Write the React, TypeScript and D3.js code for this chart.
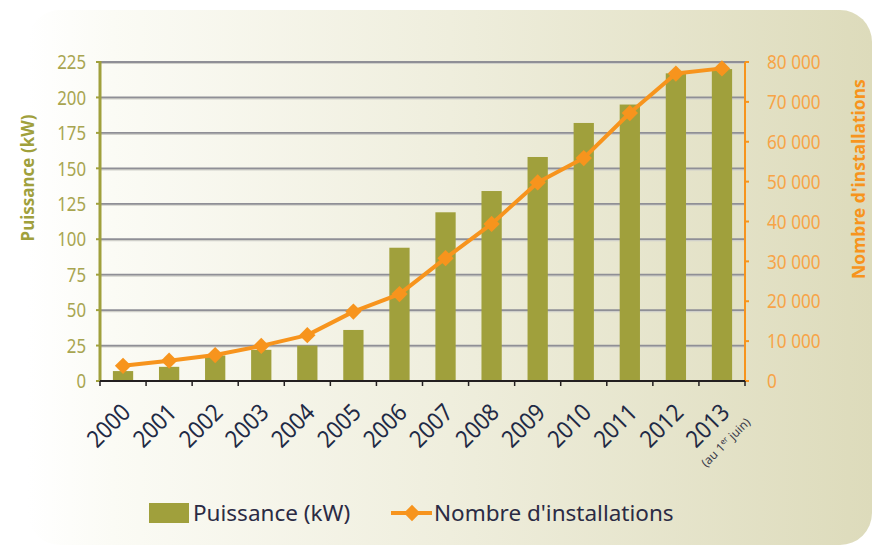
import React, { useRef, useEffect } from "react";
import * as d3 from "d3";

const years = ["2000", "2001", "2002", "2003", "2004", "2005", "2006", "2007", "2008", "2009", "2010", "2011", "2012", "2013"];
const puissance = [7, 10, 18, 22, 25, 36, 94, 119, 134, 158, 182, 195, 217, 220];
const installations = [3800, 5100, 6500, 8800, 11500, 17400, 21800, 30800, 39400, 49800, 55900, 67200, 77100, 78400];
const leftTicks = [0, 25, 50, 75, 100, 125, 150, 175, 200, 225];
const rightTicks = [0, 10000, 20000, 30000, 40000, 50000, 60000, 70000, 80000];

const OLIVE = "#a0a03c";
const ORANGE = "#f7941d";
const SANS = "'Noto Sans', sans-serif";

const App = () => {
  const svgRef = useRef<SVGSVGElement>(null);

  useEffect(() => {
    const width = 872;
    const height = 549;
    const left = 100;
    const right = 745;
    const top = 62;
    const bottom = 381;

    const svg = d3.select(svgRef.current).attr("width", width).attr("height", height);
    svg.selectAll("*").remove();

    // background panel
    const defs = svg.append("defs");
    const grad = defs.append("linearGradient").attr("id", "bg").attr("x1", "0").attr("x2", "1").attr("y1", "0").attr("y2", "0");
    grad.append("stop").attr("offset", "0").attr("stop-color", "#ffffff");
    grad.append("stop").attr("offset", "0.1").attr("stop-color", "#fbfbf5");
    grad.append("stop").attr("offset", "0.5").attr("stop-color", "#efeedd");
    grad.append("stop").attr("offset", "1").attr("stop-color", "#dddbbb");
    svg.append("rect").attr("x", 28).attr("y", 10).attr("width", 844).attr("height", 535).attr("rx", 32).attr("fill", "url(#bg)");

    const x = d3.scaleBand().domain(years).range([left, right]).paddingInner(0.56).paddingOuter(0.28);
    const step = (right - left) / years.length;
    const yL = d3.scaleLinear().domain([0, 225]).range([bottom, top]);
    const yR = d3.scaleLinear().domain([0, 80000]).range([bottom, top]);
    const cxOf = (i: number) => (x(years[i]) as number) + x.bandwidth() / 2;

    // gridlines
    const grid = svg.append("g");
    leftTicks.filter((t) => t > 0).forEach((t) => {
      grid.append("line").attr("x1", left).attr("x2", right).attr("y1", yL(t) + 1.3).attr("y2", yL(t) + 1.3).attr("stroke", "#d0d0ca").attr("stroke-width", 1.5);
      grid.append("line").attr("x1", left).attr("x2", right).attr("y1", yL(t)).attr("y2", yL(t)).attr("stroke", "#8f8f96").attr("stroke-width", 1.8);
    });

    // bars
    svg.append("g").selectAll("rect").data(puissance).join("rect")
      .attr("x", (d, i) => x(years[i]) as number)
      .attr("width", x.bandwidth())
      .attr("y", (d) => yL(d))
      .attr("height", (d) => bottom - yL(d))
      .attr("fill", OLIVE);

    // left axis
    const la = svg.append("g");
    la.append("line").attr("x1", left).attr("x2", left).attr("y1", top - 1).attr("y2", bottom).attr("stroke", OLIVE).attr("stroke-width", 3);
    leftTicks.forEach((t) => {
      la.append("line").attr("x1", left - 4).attr("x2", left).attr("y1", yL(t)).attr("y2", yL(t)).attr("stroke", OLIVE).attr("stroke-width", 2);
      la.append("g").attr("transform", `translate(86, ${yL(t)}) scale(0.84, 1)`)
        .append("text").attr("dy", "0.36em").attr("text-anchor", "end")
        .attr("font-family", SANS).attr("font-size", 20).attr("fill", "#a8a550").text(t);
    });
    la.append("text").attr("transform", `translate(34, 178) rotate(-90)`).attr("text-anchor", "middle")
      .attr("font-family", SANS).attr("font-weight", "bold").attr("font-size", 17).attr("fill", OLIVE).text("Puissance (kW)");

    // right axis
    const ra = svg.append("g");
    ra.append("line").attr("x1", right).attr("x2", right).attr("y1", top).attr("y2", bottom).attr("stroke", ORANGE).attr("stroke-width", 2);
    const fmt = (v: number) => (v === 0 ? "0" : `${v / 1000} 000`);
    rightTicks.forEach((t) => {
      ra.append("line").attr("x1", right).attr("x2", right + 4).attr("y1", yR(t)).attr("y2", yR(t)).attr("stroke", ORANGE).attr("stroke-width", 2);
      ra.append("g").attr("transform", `translate(767, ${yR(t)}) scale(0.86, 1)`)
        .append("text").attr("dy", "0.36em").attr("text-anchor", "start")
        .attr("font-family", SANS).attr("font-size", 20).attr("fill", "#f7a447").text(fmt(t));
    });
    ra.append("text").attr("transform", `translate(865, 179) rotate(-90)`).attr("text-anchor", "middle")
      .attr("font-family", SANS).attr("font-weight", "bold").attr("font-size", 17.5).attr("fill", ORANGE).text("Nombre d'installations");

    // bottom axis
    const ba = svg.append("g");
    ba.append("line").attr("x1", left).attr("x2", right).attr("y1", bottom).attr("y2", bottom).attr("stroke", "#231f20").attr("stroke-width", 2.2);
    d3.range(years.length + 1).forEach((i) => {
      ba.append("line").attr("x1", left + i * step).attr("x2", left + i * step).attr("y1", bottom).attr("y2", bottom + 5).attr("stroke", "#231f20").attr("stroke-width", 1.5);
    });
    years.forEach((yr, i) => {
      ba.append("text").attr("transform", `translate(${cxOf(i) + 9}, ${bottom + 33}) rotate(-45) scale(0.9, 1)`).attr("text-anchor", "end")
        .attr("font-family", SANS).attr("font-size", 24).attr("fill", "#1f2a45").text(yr);
    });
    const cLast = cxOf(years.length - 1);
    ba.append("text").attr("transform", `translate(${cLast + 29}, ${bottom + 42}) rotate(-45)`).attr("text-anchor", "end")
      .attr("font-family", SANS).attr("font-size", 12).attr("fill", "#3a3a4a")
      .html("(au 1<tspan dy='-4' font-size='8'>er</tspan><tspan dy='4'> juin)</tspan>");

    // line series
    const line = d3.line<number>().x((d, i) => cxOf(i)).y((d) => yR(d));
    svg.append("path").datum(installations).attr("d", line).attr("fill", "none").attr("stroke", ORANGE).attr("stroke-width", 4).attr("stroke-linejoin", "round");
    const diamond = d3.symbol().type(d3.symbolDiamond2).size(170);
    svg.append("g").selectAll("path").data(installations).join("path")
      .attr("d", diamond)
      .attr("transform", (d, i) => `translate(${cxOf(i)}, ${yR(d)})`)
      .attr("fill", ORANGE);

    // legend
    const lg = svg.append("g");
    lg.append("rect").attr("x", 149).attr("y", 503).attr("width", 40).attr("height", 20).attr("fill", OLIVE);
    lg.append("text").attr("x", 193).attr("y", 521).attr("font-family", SANS).attr("font-size", 22.5).attr("fill", "#2b2b44").text("Puissance (kW)");
    lg.append("line").attr("x1", 391).attr("x2", 432).attr("y1", 513).attr("y2", 513).attr("stroke", ORANGE).attr("stroke-width", 4);
    lg.append("path").attr("d", diamond).attr("transform", "translate(412, 513)").attr("fill", ORANGE);
    lg.append("text").attr("x", 434).attr("y", 521).attr("font-family", SANS).attr("font-size", 22.5).attr("fill", "#2b2b44").text("Nombre d'installations");
  }, []);

  return <svg ref={svgRef} style={{ position: "absolute", left: 0, top: 0 }}></svg>;
};

export default App;
